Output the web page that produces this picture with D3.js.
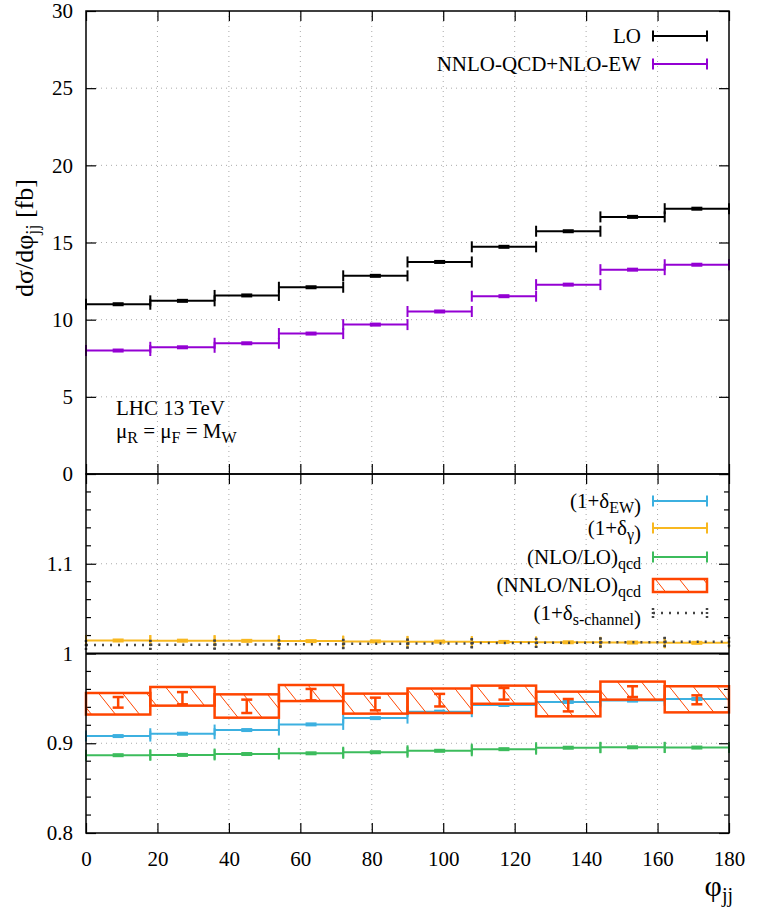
<!DOCTYPE html>
<html>
<head>
<meta charset="utf-8">
<title>dsigma/dphi_jj</title>
<script src="https://d3js.org/d3.v7.min.js"></script>
<style>
  body { margin: 0; background: #fff; }
  text { font-family: "Liberation Serif", "Times New Roman", serif; fill: #000; }
</style>
</head>
<body>
<script>
// bins in phi_jj (degrees)
var binEdges = [0, 18, 36, 54, 72, 90, 108, 126, 144, 162, 180];
var xTicks = [0, 20, 40, 60, 80, 100, 120, 140, 160, 180];
var topTicks = [0, 5, 10, 15, 20, 25, 30];
var ratioTicks = [0.8, 0.9, 1, 1.1];

// upper panel, fb
var loValues = [11.0, 11.22, 11.57, 12.1, 12.84, 13.74, 14.72, 15.73, 16.66, 17.19];
var nnloValues = [8.0, 8.21, 8.47, 9.1, 9.68, 10.53, 11.52, 12.27, 13.24, 13.56];

// lower panel, ratios
var deltaEW = [0.908, 0.9106, 0.9147, 0.921, 0.928, 0.9352, 0.9426, 0.946, 0.9475, 0.9494];
var deltaGamma = [1.0145, 1.0143, 1.0141, 1.0138, 1.0135, 1.0132, 1.0129, 1.0125, 1.0122, 1.0119];
var nloOverLo = [0.8867, 0.887, 0.888, 0.8888, 0.89, 0.8916, 0.8934, 0.895, 0.8955, 0.8952];
var nnloBandLow = [0.932, 0.9419, 0.9285, 0.947, 0.933, 0.9337, 0.944, 0.930, 0.9486, 0.9344];
var nnloBandHigh = [0.956, 0.9627, 0.9545, 0.9649, 0.9553, 0.961, 0.9642, 0.9575, 0.9687, 0.9635];
var nnloErrLow = [0.9397, 0.9434, 0.9337, 0.9478, 0.9367, 0.941, 0.9486, 0.9355, 0.9515, 0.9434];
var nnloErrHigh = [0.9515, 0.957, 0.9486, 0.9605, 0.9508, 0.955, 0.9616, 0.9493, 0.9635, 0.9534];
var sChannel = [1.0096, 1.0098, 1.0101, 1.0104, 1.0108, 1.0112, 1.0117, 1.0121, 1.0126, 1.013];

var W = 757, H = 912;
var left = 86, right = 729;
var topY0 = 11, topY1 = 474, botY1 = 833;

var colLO = "#000000", colNNLO = "#9400d3", colEW = "#3cb0e0",
    colGam = "#f8b820", colNLO = "#3cbc5c", colNN = "#ff4500", colS = "#444444";

var svg = d3.select("body").append("svg")
  .attr("width", W).attr("height", H);

var defs = svg.append("defs");
var pat = defs.append("pattern")
  .attr("id", "hatch")
  .attr("patternUnits", "userSpaceOnUse")
  .attr("width", 24).attr("height", 30);
pat.append("line").attr("x1", 0).attr("y1", 0).attr("x2", 24).attr("y2", 30)
  .attr("stroke", colNN).attr("stroke-width", 1);

var x = d3.scaleLinear().domain([0, 180]).range([left, right]);
var yTop = d3.scaleLinear().domain([0, 30]).range([topY1, topY0]);
var yBot = d3.scaleLinear().domain([0.8, 1.2]).range([botY1, topY1]);

function bins(values) {
  return values.map(function(v, i) { return {a: binEdges[i], b: binEdges[i + 1], v: v}; });
}

// grid
function grid(y, yTicks, y0, y1) {
  var g = svg.append("g").attr("stroke", "#aaa").attr("stroke-width", 1)
    .attr("stroke-dasharray", "1,4");
  xTicks.slice(1, -1).forEach(function(t) {
    g.append("line").attr("x1", x(t)).attr("x2", x(t)).attr("y1", y0).attr("y2", y1);
  });
  yTicks.forEach(function(t) {
    g.append("line").attr("x1", left).attr("x2", right).attr("y1", y(t)).attr("y2", y(t));
  });
}
grid(yTop, [5, 10, 15, 20, 25], topY0, topY1);
grid(yBot, [0.9, 1.1], topY1, botY1);

// axes
function styleAxis(g) {
  g.select(".domain").remove();
  g.selectAll(".tick line").attr("stroke", "#000").attr("stroke-width", 1.2);
  g.selectAll("text").style("font-size", "21px").style("font-family", '"Liberation Serif", serif');
}
svg.append("g").attr("transform", "translate(" + left + ",0)")
  .call(d3.axisLeft(yTop).tickValues(topTicks).tickSize(-10).tickPadding(13).tickFormat(d3.format("d")))
  .call(styleAxis);
svg.append("g").attr("transform", "translate(" + right + ",0)")
  .call(d3.axisRight(yTop).tickValues(topTicks).tickSize(-10).tickFormat(""))
  .call(styleAxis);
svg.append("g").attr("transform", "translate(0," + topY0 + ")")
  .call(d3.axisTop(x).tickValues(xTicks).tickSize(-10).tickFormat(""))
  .call(styleAxis);
svg.append("g").attr("transform", "translate(0," + topY1 + ")")
  .call(d3.axisBottom(x).tickValues(xTicks).tickSize(-10).tickFormat(""))
  .call(styleAxis);
svg.append("g").attr("transform", "translate(0," + topY1 + ")")
  .call(d3.axisTop(x).tickValues(xTicks).tickSize(-10).tickFormat(""))
  .call(styleAxis);
svg.append("g").attr("transform", "translate(0," + botY1 + ")")
  .call(d3.axisBottom(x).tickValues(xTicks).tickSize(-10).tickPadding(18).tickFormat(d3.format("d")))
  .call(styleAxis);
svg.append("g").attr("transform", "translate(" + left + ",0)")
  .call(d3.axisLeft(yBot).tickValues(ratioTicks).tickSize(-10).tickPadding(13).tickFormat(function(d) { return d === 1 ? "1" : d3.format(".1f")(d); }))
  .call(styleAxis);
svg.append("g").attr("transform", "translate(" + right + ",0)")
  .call(d3.axisRight(yBot).tickValues([0.8, 0.9, 1, 1.1, 1.2]).tickSize(-10).tickFormat(""))
  .call(styleAxis);

// minor ticks in the ratio panel
var minor = d3.range(0.82, 1.2, 0.02).filter(function(v) { return Math.abs(v * 10 - Math.round(v * 10)) > 0.01; });
var mg = svg.append("g").attr("stroke", "#000").attr("stroke-width", 1.2);
minor.forEach(function(v) {
  mg.append("line").attr("x1", left).attr("x2", left + 5).attr("y1", yBot(v)).attr("y2", yBot(v));
  mg.append("line").attr("x1", right - 5).attr("x2", right).attr("y1", yBot(v)).attr("y2", yBot(v));
});

// horizontal error bars with end caps and a small central mark
function stepBars(values, y, color, width, cap) {
  var g = svg.append("g").attr("stroke", color).attr("stroke-width", width);
  var d = bins(values);
  g.selectAll(".h").data(d).enter().append("line")
    .attr("x1", function(b) { return x(b.a); }).attr("x2", function(b) { return x(b.b); })
    .attr("y1", function(b) { return y(b.v); }).attr("y2", function(b) { return y(b.v); });
  d.forEach(function(b) {
    [b.a, b.b].forEach(function(e) {
      g.append("line").attr("x1", x(e)).attr("x2", x(e))
        .attr("y1", y(b.v) - cap).attr("y2", y(b.v) + cap);
    });
  });
  svg.append("g").selectAll("rect").data(d).enter().append("rect")
    .attr("x", function(b) { return x((b.a + b.b) / 2) - 5.5; })
    .attr("y", function(b) { return y(b.v) - 2; })
    .attr("width", 11).attr("height", 4)
    .attr("fill", color);
}

stepBars(loValues, yTop, colLO, 2, 5.5);
stepBars(nnloValues, yTop, colNNLO, 2, 5.5);

stepBars(deltaEW, yBot, colEW, 2, 5.5);
stepBars(deltaGamma, yBot, colGam, 2, 5.5);
stepBars(nloOverLo, yBot, colNLO, 2, 5.5);

// NNLO/NLO band: hatched boxes with an error bar in the middle
var nn = svg.append("g");
nn.selectAll("rect").data(bins(nnloBandLow)).enter().append("rect")
  .attr("x", function(b) { return x(b.a); })
  .attr("width", function(b) { return x(b.b) - x(b.a); })
  .attr("y", function(b, i) { return yBot(nnloBandHigh[i]); })
  .attr("height", function(b, i) { return yBot(nnloBandLow[i]) - yBot(nnloBandHigh[i]); })
  .attr("fill", "url(#hatch)").attr("stroke", colNN).attr("stroke-width", 2.5);
var eg = svg.append("g").attr("stroke", colNN).attr("stroke-width", 2.5);
bins(nnloErrLow).forEach(function(b, i) {
  var cx = x((b.a + b.b) / 2);
  var y1 = yBot(nnloErrHigh[i]), y2 = yBot(nnloErrLow[i]);
  eg.append("line").attr("x1", cx).attr("x2", cx).attr("y1", y1).attr("y2", y2);
  eg.append("line").attr("x1", cx - 5.5).attr("x2", cx + 5.5).attr("y1", y1).attr("y2", y1);
  eg.append("line").attr("x1", cx - 5.5).attr("x2", cx + 5.5).attr("y1", y2).attr("y2", y2);
});

// s-channel, dotted
var sg = svg.append("g").attr("stroke", colS).attr("stroke-width", 2.5).attr("stroke-dasharray", "2,6");
bins(sChannel).forEach(function(b) {
  sg.append("line").attr("x1", x(b.a)).attr("x2", x(b.b)).attr("y1", yBot(b.v)).attr("y2", yBot(b.v));
  [b.a, b.b].forEach(function(e) {
    sg.append("line").attr("x1", x(e)).attr("x2", x(e))
      .attr("y1", yBot(b.v) - 5).attr("y2", yBot(b.v) + 5).attr("stroke-dasharray", "2,2");
  });
});

// reference line at 1
svg.append("line").attr("x1", left).attr("x2", right).attr("y1", yBot(1)).attr("y2", yBot(1))
  .attr("stroke", "#000").attr("stroke-width", 2);

// frames
svg.append("rect").attr("x", left).attr("y", topY0).attr("width", right - left).attr("height", topY1 - topY0)
  .attr("fill", "none").attr("stroke", "#000").attr("stroke-width", 1.5);
svg.append("rect").attr("x", left).attr("y", topY1).attr("width", right - left).attr("height", botY1 - topY1)
  .attr("fill", "none").attr("stroke", "#000").attr("stroke-width", 1.5);

// legends
var lx0 = 653, lx1 = 707, tx = 641;
function legendText(y, parts) {
  var t = svg.append("text").attr("x", tx).attr("y", y + 7).attr("text-anchor", "end").style("font-size", "21px");
  parts.forEach(function(p) {
    if (typeof p === "string") t.append("tspan").text(p);
    else t.append("tspan").attr("dy", 5).style("font-size", "16px").text(p.sub)
      .call(function() { t.append("tspan").attr("dy", -5).text(""); });
  });
  return t;
}
function legendBar(y, color) {
  var g = svg.append("g").attr("stroke", color).attr("stroke-width", 2);
  g.append("line").attr("x1", lx0).attr("x2", lx1).attr("y1", y).attr("y2", y);
  g.append("line").attr("x1", lx0).attr("x2", lx0).attr("y1", y - 5.5).attr("y2", y + 5.5);
  g.append("line").attr("x1", lx1).attr("x2", lx1).attr("y1", y - 5.5).attr("y2", y + 5.5);
}

legendText(36, ["LO"]); legendBar(36, colLO);
legendText(64, ["NNLO-QCD+NLO-EW"]); legendBar(64, colNNLO);

legendText(501, ["(1+δ", {sub: "EW"}, ")"]); legendBar(501, colEW);
legendText(528, ["(1+δ", {sub: "γ"}, ")"]); legendBar(528, colGam);
legendText(557, ["(NLO/LO)", {sub: "qcd"}]); legendBar(557, colNLO);
legendText(585, ["(NNLO/NLO)", {sub: "qcd"}]);
svg.append("rect").attr("x", lx0).attr("y", 579).attr("width", lx1 - lx0).attr("height", 13)
  .attr("fill", "url(#hatch)").attr("stroke", colNN).attr("stroke-width", 2.5);
legendText(613, ["(1+δ", {sub: "s-channel"}, ")"]);
var ls = svg.append("g").attr("stroke", colS).attr("stroke-width", 2.5);
ls.append("line").attr("x1", lx0).attr("x2", lx1).attr("y1", 613).attr("y2", 613).attr("stroke-dasharray", "2,6");
ls.append("line").attr("x1", lx0).attr("x2", lx0).attr("y1", 608).attr("y2", 618).attr("stroke-dasharray", "2,2");
ls.append("line").attr("x1", lx1).attr("x2", lx1).attr("y1", 608).attr("y2", 618).attr("stroke-dasharray", "2,2");

// annotations
svg.append("text").attr("x", 116).attr("y", 415).style("font-size", "21px").text("LHC 13 TeV");
var mu = svg.append("text").attr("x", 116).attr("y", 438).style("font-size", "21px");
mu.append("tspan").text("μ");
mu.append("tspan").attr("dy", 5).style("font-size", "16px").text("R");
mu.append("tspan").attr("dy", -5).text(" = μ");
mu.append("tspan").attr("dy", 5).style("font-size", "16px").text("F");
mu.append("tspan").attr("dy", -5).text(" = M");
mu.append("tspan").attr("dy", 5).style("font-size", "16px").text("W");

// axis titles
var yl = svg.append("text").attr("transform", "translate(33,238) rotate(-90)")
  .attr("text-anchor", "middle").style("font-size", "26px");
yl.append("tspan").text("dσ/dφ");
yl.append("tspan").attr("dy", 6).style("font-size", "18px").text("jj");
yl.append("tspan").attr("dy", -6).text(" [fb]");

var xl = svg.append("text").attr("x", 733).attr("y", 896).attr("text-anchor", "end").style("font-size", "30px");
xl.append("tspan").text("φ");
xl.append("tspan").attr("dy", 6).style("font-size", "20px").text("jj");
</script>
</body>
</html>
